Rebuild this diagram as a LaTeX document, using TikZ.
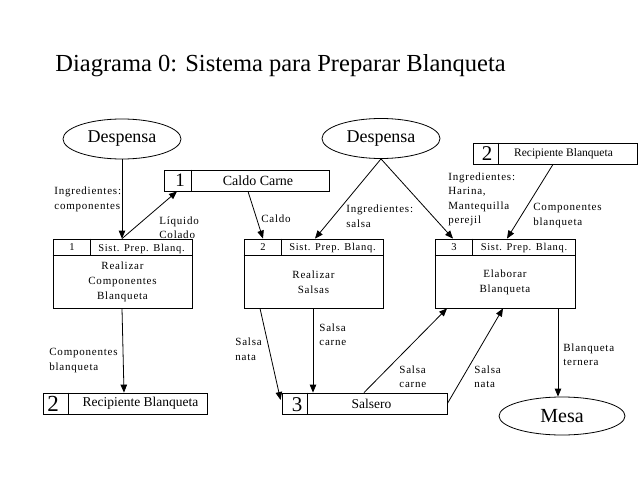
\documentclass[tikz,border=0pt]{standalone}
\usepackage{fontspec}
\setmainfont{Liberation Serif}
\newfontfamily\lblfont[LetterSpace=7]{Liberation Serif}
\usetikzlibrary{arrows.meta,shapes.geometric,calc}
\begin{document}
\begin{tikzpicture}[x=1pt,y=-1pt, line width=0.8pt,
  arr/.style={-{Triangle[length=8pt,width=6.5pt]}},
  lab/.style={font=\lblfont\fontsize{11}{14.5}\selectfont, align=left, inner sep=0pt, anchor=west},
  body/.style={font=\lblfont\fontsize{11}{15}\selectfont, align=center, inner sep=0pt},
  hdr/.style={font=\lblfont\fontsize{10.5}{12}\selectfont, inner sep=0pt},
  ell/.style={draw, ellipse, inner sep=0pt},
  box/.style={draw, rectangle, inner sep=0pt},
  proc/.style={box, minimum width=139pt, minimum height=69pt},
  store/.style={box, minimum width=165pt, minimum height=21pt},
  num/.style={inner sep=0pt},
]
\useasboundingbox (0,0) rectangle (638,479);

\node[anchor=base west, inner sep=0pt, font=\fontsize{24.5}{28}\selectfont] (title) at (55,71) {Diagrama 0: Sistema para Preparar Blanqueta};

% external entities
\node[ell, minimum width=118pt, minimum height=40pt, font=\fontsize{18}{20}\selectfont] (d1) at (122,139) {Despensa};
\node[ell, minimum width=118pt, minimum height=40pt, font=\fontsize{18}{20}\selectfont] (d2) at (381,138.5) {Despensa};
\node[ell, minimum width=126pt, minimum height=38pt, font=\fontsize{20}{22}\selectfont] (mesa) at (562,416) {Mesa};

% processes
\foreach \n/\cx/\w in {p1/122.5/139, p2/313.5/139, p3/505/140} {
  \node[proc, minimum width=\w pt] (\n) at (\cx,273.5) {};
  \draw ([yshift=-17pt]\n.north west) -- ([yshift=-17pt]\n.north east);
  \draw ([xshift=38pt]\n.north west) -- ([xshift=38pt,yshift=-17pt]\n.north west);
}
\node[hdr] (p1n) at (72,247.5) {1};
\node[hdr] (p1h) at (141.5,249) {Sist. Prep. Blanq.};
\node[body] (p1b) at (122.5,282) {Realizar\\Componentes\\Blanqueta};
\node[hdr] (p2n) at (263,247.5) {2};
\node[hdr] (p2h) at (332.5,247.5) {Sist. Prep. Blanq.};
\node[body] (p2b) at (313.5,282.5) {Realizar\\Salsas};
\node[hdr] (p3n) at (454,247.5) {3};
\node[hdr] (p3h) at (524,247.5) {Sist. Prep. Blanq.};
\node[body] (p3b) at (505,282.5) {Elaborar\\Blanqueta};

% data stores
\node[store] (cc) at (246.5,180.5) {};
\draw ([xshift=28pt]cc.north west) -- ([xshift=28pt]cc.south west);
\node[num, font=\fontsize{19}{20}\selectfont] (ccn) at (180,180.5) {1};
\node[num, font=\fontsize{14}{16}\selectfont] (cct) at (258,180.5) {Caldo Carne};

\node[store, minimum width=164pt] (rb1) at (555,153.5) {};
\draw ([xshift=26pt]rb1.north west) -- ([xshift=26pt]rb1.south west);
\node[num, font=\fontsize{21}{22}\selectfont] (rb1n) at (487,153.5) {2};
\node[num, font=\fontsize{11.5}{13}\selectfont] (rb1t) at (563.5,153.5) {Recipiente Blanqueta};

\node[store, minimum width=164pt] (rb2) at (125,403.5) {};
\draw ([xshift=26pt]rb2.north west) -- ([xshift=26pt]rb2.south west);
\node[num, font=\fontsize{23}{24}\selectfont] (rb2n) at (53,403.5) {2};
\node[num, font=\fontsize{13.5}{15}\selectfont] (rb2t) at (140.5,403.5) {Recipiente Blanqueta};

\node[store] (sal) at (364.5,403.5) {};
\draw ([xshift=26pt]sal.north west) -- ([xshift=26pt]sal.south west);
\node[num, font=\fontsize{21}{22}\selectfont] (saln) at (297,404.5) {3};
\node[num, font=\fontsize{13.5}{15}\selectfont] (salt) at (371.5,403.5) {Salsero};

% flows
\draw[arr] (d1.south) -- (d1.south |- p1.north);
\draw[arr] ([xshift=-0.5pt]p1.north) -- ([xshift=-69.5pt]cc.south);
\draw[arr] ([xshift=1.5pt]cc.south) -- ([xshift=-50.5pt]p2.north);
\draw[arr] (d2.south) -- ([xshift=1.5pt]p2.north);
\draw[arr] (d2.south) -- ([xshift=-52pt]p3.north);
\draw[arr] ([xshift=-2pt]rb1.south) -- ([xshift=2pt]p3.north);
\draw[arr] ([xshift=-0.5pt]p1.south) -- ([xshift=-1pt]rb2.north);
\draw[arr] ([xshift=-53.5pt]p2.south) -- ([xshift=-1pt,yshift=3.5pt]sal.west);
\draw[arr] ([xshift=-0.5pt]p2.south) -- ([xshift=-0.5pt]p2.south |- sal.north);
\draw[arr] ([xshift=-0.5pt]sal.north) -- ([xshift=-58pt]p3.south);
\draw[arr] (sal.east) -- ([xshift=-2pt]p3.south);
\draw[arr] ([xshift=53pt]p3.south) -- ([xshift=53pt]p3.south |- mesa.north);

% flow labels
\node[lab] (l1) at (54,199.5) {Ingredientes:\\componentes};
\node[lab] (l2) at (159,227.5) {Líquido\\Colado};
\node[lab] (l3) at (261,219) {Caldo};
\node[lab] (l4) at (346,216) {Ingredientes:\\salsa};
\node[lab] (l5) at (448,199.5) {Ingredientes:\\Harina,\\Mantequilla\\perejil};
\node[lab] (l6) at (533,215.5) {Componentes\\blanqueta};
\node[lab] (l7) at (49,360.5) {Componentes\\blanqueta};
\node[lab] (l8) at (235,349) {Salsa\\nata};
\node[lab] (l9) at (319,334.5) {Salsa\\carne};
\node[lab] (l10) at (399,376.5) {Salsa\\carne};
\node[lab] (l11) at (474,376.5) {Salsa\\nata};
\node[lab] (l12) at (563,354.5) {Blanqueta\\ternera};
\end{tikzpicture}
\end{document}
